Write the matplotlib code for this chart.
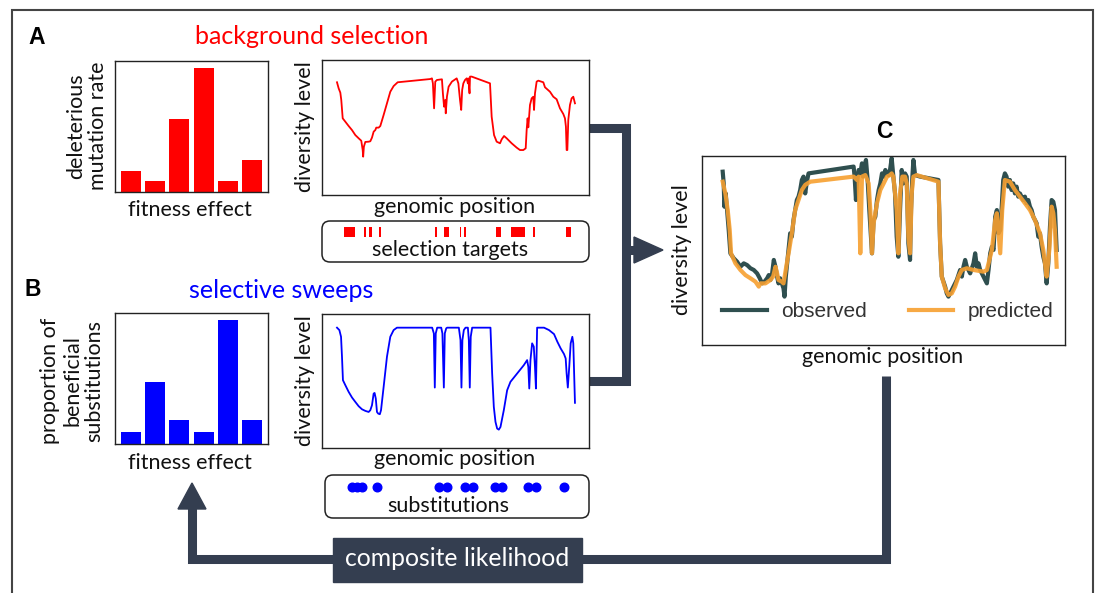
import matplotlib
matplotlib.use("Agg")
import matplotlib.pyplot as plt
from matplotlib.patches import FancyBboxPatch, Polygon, Rectangle

plt.rcParams['font.family'] = ['Lato', 'DejaVu Sans']

# distribution of fitness effects (arbitrary units)
fitness_bins = [0, 1, 2, 3, 4, 5]
deleterious_rate = [1.6, 0.85, 5.6, 9.5, 0.85, 2.45]
beneficial_prop = [0.92, 4.7, 1.85, 0.92, 9.5, 1.85]

# background selection: diversity along the genome
bgs_pos = [0, 0.7, 1.4, 1.8, 2.4, 3.5, 4.9, 6.3, 7.7, 9.1, 10.2, 10.8, 11.0, 11.3, 11.9,
           13.3, 14.0, 14.7, 15.4, 16.1, 16.5, 17.5, 18.2, 19.6, 21.0, 22.4, 23.8, 25.5,
           39.2, 39.9, 40.3, 40.8, 41.3, 42.0, 44.1, 44.5, 45.0, 45.5, 45.7, 46.2, 46.9,
           48.3, 50.3, 51.0, 51.7, 52.2, 52.6, 53.1, 53.8, 54.5, 55.0, 55.2, 55.7, 55.9,
           56.6, 64.3, 65.0, 66.0, 67.1, 68.5, 69.2, 70.2, 71.3, 73.4, 75.5, 76.9, 78.3,
           79.3, 79.7, 80.1, 80.4, 81.1, 81.8, 82.5, 82.8, 83.2, 83.9, 84.6, 86.7, 87.4,
           89.5, 90.9, 92.3, 93.7, 95.1, 95.8, 96.2, 96.5, 96.8, 97.2, 97.9, 98.6, 99.3, 100]
bgs_div = [0.835, 0.790, 0.758, 0.704, 0.568, 0.543, 0.511, 0.481, 0.444, 0.420, 0.402, 0.333,
           0.284, 0.358, 0.393, 0.395, 0.398, 0.425, 0.469, 0.481, 0.499, 0.499, 0.511, 0.593,
           0.679, 0.765, 0.807, 0.835, 0.859, 0.864, 0.827, 0.642, 0.840, 0.852, 0.857, 0.753,
           0.654, 0.704, 0.605, 0.728, 0.802, 0.840, 0.864, 0.827, 0.704, 0.630, 0.778, 0.827,
           0.852, 0.864, 0.827, 0.864, 0.753, 0.877, 0.877, 0.827, 0.580, 0.444, 0.395, 0.383,
           0.412, 0.437, 0.420, 0.383, 0.351, 0.333, 0.333, 0.346, 0.481, 0.568, 0.501, 0.667,
           0.716, 0.728, 0.630, 0.753, 0.840, 0.847, 0.835, 0.798, 0.765, 0.728, 0.709, 0.642,
           0.600, 0.568, 0.506, 0.333, 0.333, 0.556, 0.667, 0.716, 0.728, 0.679]

# selection targets (start, end)
target_start = [2.8, 11.2, 13.6, 17.5, 41.3, 44.9, 51.5, 53.4, 66.7, 73.0, 82.2, 96.2]
target_end = [7.7, 12.3, 14.7, 18.5, 42.1, 47.1, 52.0, 54.1, 68.8, 79.0, 83.2, 98.3]

# selective sweeps: diversity along the genome
sweep_pos = [0, 1.0, 1.7, 2.1, 2.5, 3.5, 4.9, 6.3, 7.7, 9.1, 10.5, 11.9, 13.3, 14.0, 14.7,
             15.4, 15.8, 16.3, 16.8, 17.3, 18.0, 18.5, 19.6, 21.0, 22.4, 23.8, 25.2, 40.0,
             40.7, 41.1, 41.5, 42.1, 43.8, 44.3, 44.9, 45.3, 45.9, 46.3, 51.2, 51.9, 52.3,
             52.7, 53.3, 54.0, 55.0, 55.4, 55.8, 56.2, 56.8, 64.5, 65.2, 65.9, 66.6, 67.3,
             68.0, 68.7, 70.1, 71.5, 72.9, 75.7, 78.5, 79.9, 80.4, 80.8, 81.3, 82.0, 82.7,
             83.2, 83.6, 84.1, 87.0, 89.1, 91.2, 92.6, 94.0, 95.4, 96.1, 96.5, 97.0, 97.6,
             98.2, 98.9, 99.3, 100]
sweep_div = [0.898, 0.880, 0.830, 0.681, 0.506, 0.469, 0.419, 0.377, 0.344, 0.312, 0.289,
             0.277, 0.269, 0.282, 0.319, 0.406, 0.411, 0.369, 0.269, 0.257, 0.252, 0.282,
             0.456, 0.681, 0.830, 0.880, 0.898, 0.898, 0.855, 0.451, 0.855, 0.898, 0.898,
             0.855, 0.451, 0.855, 0.893, 0.898, 0.898, 0.805, 0.451, 0.805, 0.880, 0.898,
             0.898, 0.805, 0.451, 0.830, 0.898, 0.898, 0.556, 0.307, 0.195, 0.145, 0.137,
             0.157, 0.282, 0.431, 0.494, 0.556, 0.618, 0.656, 0.606, 0.444, 0.656, 0.781,
             0.756, 0.606, 0.444, 0.898, 0.898, 0.880, 0.850, 0.793, 0.743, 0.701, 0.668,
             0.556, 0.451, 0.606, 0.781, 0.830, 0.781, 0.337]

# beneficial substitutions
subst_pos = [6.5, 8.6, 10.7, 17.0, 42.7, 46.4, 54.0, 57.0, 66.6, 69.5, 80.1, 83.5, 95.2]

# observed vs predicted diversity
obs_pos = [0.0, 0.3, 0.5, 0.9, 1.3, 1.8, 2.3, 3.3, 4.3, 5.3, 6.3, 7.3, 8.3, 9.3, 10.3, 11.1,
           11.8, 12.5, 13.3, 13.8, 14.3, 14.8, 15.3, 15.8, 16.3, 16.7, 17.2, 17.7, 18.2, 18.5,
           18.9, 19.4, 19.8, 20.2, 20.7, 21.2, 21.7, 22.2, 22.7, 23.2, 23.7, 24.2, 24.7, 25.2,
           25.7, 39.2, 39.5, 39.9, 40.2, 40.7, 41.2, 41.7, 42.0, 42.4, 42.9, 43.4, 43.9, 44.7,
           45.2, 45.7, 46.2, 46.7, 47.2, 47.7, 48.2, 48.7, 49.2, 49.7, 50.1, 50.6, 51.1, 51.6,
           52.1, 52.6, 53.1, 53.6, 54.1, 54.6, 55.1, 55.6, 56.1, 56.4, 56.8, 57.1, 57.6, 59.1,
           64.6, 65.1, 65.6, 66.1, 66.6, 67.1, 67.6, 68.1, 69.1, 70.1, 71.1, 71.6, 72.1, 72.6,
           73.1, 74.1, 75.1, 75.6, 76.1, 76.6, 77.1, 78.1, 79.1, 79.6, 80.1, 80.6, 81.1, 81.6,
           82.1, 82.6, 83.1, 83.5, 84.0, 84.5, 85.0, 85.5, 86.0, 86.5, 87.0, 87.5, 88.0, 88.5,
           89.0, 89.5, 90.0, 90.5, 91.0, 91.5, 92.0, 92.5, 93.0, 94.0, 94.5, 95.0, 95.5, 96.0,
           96.5, 97.0, 97.5, 98.0, 98.5, 99.0, 99.5, 100]
obs_div = [0.917, 0.855, 0.732, 0.802, 0.714, 0.608, 0.485, 0.459, 0.441, 0.414, 0.432, 0.423,
           0.406, 0.397, 0.379, 0.353, 0.326, 0.335, 0.353, 0.370, 0.344, 0.379, 0.450, 0.414,
           0.362, 0.326, 0.353, 0.326, 0.300, 0.256, 0.362, 0.450, 0.520, 0.591, 0.573, 0.661,
           0.714, 0.767, 0.785, 0.820, 0.873, 0.891, 0.802, 0.864, 0.908, 0.944, 0.891, 0.767,
           0.855, 0.926, 0.908, 0.961, 0.891, 0.944, 0.979, 0.873, 0.714, 0.485, 0.661, 0.679,
           0.767, 0.820, 0.855, 0.908, 0.891, 0.926, 0.908, 0.899, 0.926, 0.988, 0.891, 0.802,
           0.573, 0.467, 0.714, 0.926, 0.855, 0.908, 0.891, 0.538, 0.450, 0.714, 0.891, 0.979,
           0.899, 0.891, 0.873, 0.538, 0.362, 0.335, 0.309, 0.273, 0.256, 0.273, 0.309, 0.344,
           0.397, 0.362, 0.414, 0.450, 0.414, 0.379, 0.432, 0.485, 0.414, 0.432, 0.397, 0.362,
           0.326, 0.397, 0.485, 0.520, 0.503, 0.679, 0.714, 0.591, 0.608, 0.714, 0.873, 0.908,
           0.891, 0.838, 0.873, 0.820, 0.855, 0.802, 0.838, 0.785, 0.802, 0.785, 0.767, 0.785,
           0.750, 0.767, 0.732, 0.714, 0.679, 0.644, 0.573, 0.591, 0.520, 0.467, 0.432, 0.326,
           0.432, 0.626, 0.767, 0.758, 0.714, 0.503]
pred_pos = [0, 0.8, 1.5, 2.1, 2.5, 3.8, 5.3, 6.8, 8.3, 9.8, 10.8, 11.3, 12.8, 14.3, 15.1, 15.8,
            16.3, 16.7, 17.7, 18.2, 18.7, 19.2, 19.9, 20.7, 21.7, 22.7, 23.7, 24.7, 26.2, 39.2,
            40.2, 40.7, 41.2, 41.7, 42.7, 43.7, 44.2, 44.7, 45.2, 46.2, 47.2, 48.2, 49.2, 50.1,
            50.6, 51.1, 52.1, 52.6, 53.1, 53.8, 54.6, 55.1, 55.6, 56.1, 56.6, 57.1, 58.1, 64.6,
            65.1, 65.6, 66.6, 67.6, 68.6, 69.6, 70.6, 71.6, 73.1, 75.1, 78.1, 79.1, 80.1, 80.6,
            81.6, 82.1, 83.1, 83.7, 84.5, 86.0, 87.5, 89.0, 90.5, 92.0, 93.5, 95.0, 96.0, 96.5,
            97.0, 97.8, 98.5, 99.0, 99.5, 100]
pred_div = [0.864, 0.802, 0.714, 0.608, 0.485, 0.432, 0.397, 0.370, 0.353, 0.335, 0.309, 0.326,
            0.326, 0.344, 0.362, 0.414, 0.379, 0.344, 0.335, 0.326, 0.379, 0.432, 0.503, 0.591,
            0.714, 0.767, 0.820, 0.847, 0.864, 0.891, 0.873, 0.891, 0.485, 0.891, 0.899, 0.855,
            0.714, 0.485, 0.644, 0.750, 0.820, 0.855, 0.891, 0.899, 0.908, 0.891, 0.714, 0.485,
            0.802, 0.891, 0.891, 0.855, 0.573, 0.485, 0.802, 0.891, 0.899, 0.864, 0.538, 0.362,
            0.300, 0.265, 0.273, 0.309, 0.362, 0.397, 0.406, 0.397, 0.388, 0.397, 0.467, 0.503,
            0.661, 0.697, 0.485, 0.714, 0.873, 0.864, 0.820, 0.785, 0.750, 0.714, 0.661, 0.591,
            0.503, 0.432, 0.362, 0.503, 0.732, 0.697, 0.608, 0.414]

W, H = 1098, 593
RED = '#ff0000'
BLUE = '#0000ff'
NAVY = '#343e50'
FS = 15.5

fig = plt.figure(figsize=(W / 100, H / 100), dpi=100)


def add_ax(l, t, r, b):
    # axes placed in pixel coordinates, measured from the top-left corner
    return fig.add_axes([l / W, 1 - b / H, (r - l) / W, (b - t) / H])


# canvas for frame, connectors and free text
bg = fig.add_axes([0, 0, 1, 1])
bg.set_xlim(0, W)
bg.set_ylim(H, 0)
bg.axis('off')

bg.plot([12, 12, 1093, 1093], [H + 5, 10, 10, H + 5], color='#444444', lw=1.5,
        solid_joinstyle='miter')

conn = dict(color=NAVY, lw=6.5, solid_joinstyle='miter', solid_capstyle='butt')
bg.plot([589, 626, 626, 589], [128, 128, 381, 381], **conn)
bg.plot([626, 640], [250, 250], **conn)
bg.add_patch(Polygon([(634, 237), (634, 263), (663, 250)], closed=True, color=NAVY))
bg.plot([885.5, 885.5, 192, 192], [376, 558.5, 558.5, 506], **conn)
bg.add_patch(Polygon([(178, 509), (206, 509), (192, 483)], closed=True, color=NAVY))
bg.add_patch(Rectangle((333, 538), 249, 44, color=NAVY, zorder=3))
bg.text(457.5, 559, 'composite likelihood', color='white', fontsize=17.8,
        ha='center', va='center', zorder=4)

for x0, y0, x1, y1 in [(322, 221, 589, 262), (325, 475, 589, 518)]:
    bg.add_patch(FancyBboxPatch((x0, y0), x1 - x0, y1 - y0,
                                boxstyle='round,pad=0,rounding_size=8',
                                fc='white', ec='#222222', lw=1.1))

# panel labels and titles
bold = dict(fontsize=16.5, fontweight='bold', family='Liberation Sans', ha='center', va='center')
bg.text(37, 37, 'A', **bold)
bg.text(33, 290, 'B', **bold)
bg.text(884, 131, 'C', **bold)
bg.text(312, 36, 'background selection', color=RED, fontsize=18, ha='center', va='center')
bg.text(281, 291, 'selective sweeps', color=BLUE, fontsize=18, ha='center', va='center')

# axis captions
lab = dict(fontsize=FS, ha='center', va='center', color='#111111')
bg.text(87, 126, 'deleterious\nmutation rate', rotation=90, linespacing=1.15, **lab)
bg.text(72, 381, 'proportion of\nbeneficial\nsubstitutions', rotation=90, linespacing=1.12, **lab)
bg.text(190, 210, 'fitness effect', **lab)
bg.text(190, 463, 'fitness effect', **lab)
bg.text(305, 127, 'diversity level', rotation=90, **lab)
bg.text(305, 381, 'diversity level', rotation=90, **lab)
bg.text(455, 207, 'genomic position', **lab)
bg.text(455, 459, 'genomic position', **lab)
bg.text(450, 250, 'selection targets', **lab)
bg.text(448, 506, 'substitutions', **lab)
bg.text(682, 250, 'diversity level', rotation=90, **lab)
bg.text(883, 357, 'genomic position', **lab)


def plain(ax):
    ax.set_xticks([])
    ax.set_yticks([])
    for s in ax.spines.values():
        s.set_linewidth(1.0)
        s.set_color('#222222')


# fitness effect histograms
for (t, b), vals, col in [((61, 192), deleterious_rate, RED), ((313, 444), beneficial_prop, BLUE)]:
    ax = add_ax(115, t, 268, b)
    ax.bar(fitness_bins, vals, width=0.82, color=col)
    ax.set_xlim(-0.66, 5.66)
    ax.set_ylim(0, 10)
    plain(ax)

# diversity along the genome
for (t, b), pos, div, col in [((60, 195), bgs_pos, bgs_div, RED),
                              ((314, 448), sweep_pos, sweep_div, BLUE)]:
    ax = add_ax(322, t, 589, b)
    ax.plot(pos, div, color=col, lw=1.3)
    ax.set_xlim(-6.3, 105.9)
    ax.set_ylim(0, 1)
    plain(ax)

# selection target strip
ax = add_ax(322, 221, 589, 262)
widths = [e - s for s, e in zip(target_start, target_end)]
ax.bar(target_start, 0.24, width=widths, bottom=0.61, align='edge', color=RED)
ax.set_xlim(-6.3, 105.9)
ax.set_ylim(0, 1)
ax.axis('off')

# substitution strip
ax = add_ax(322, 475, 589, 518)
ax.plot(subst_pos, [0.72] * len(subst_pos), 'o', color=BLUE, ms=6.2)
ax.set_xlim(-6.3, 105.9)
ax.set_ylim(0, 1)
ax.axis('off')

# observed vs predicted
ax = add_ax(702, 156, 1065, 345)
ax.plot(obs_pos, obs_div, color='#2f4f4f', lw=3.0, label='observed')
ax.plot(pred_pos, pred_div, color='#f7a030', lw=3.0, alpha=0.9, label='predicted')
ax.set_xlim(-6.2, 102.5)
ax.set_ylim(0, 1)
plain(ax)
ax.legend(loc='center', bbox_to_anchor=(0.512, 0.175), ncol=2, frameon=False,
          prop={'family': 'Liberation Sans', 'size': 15}, labelcolor='#333333',
          handlelength=2.15, handletextpad=0.7, columnspacing=2.0)

fig.savefig('out.png', dpi=100)
